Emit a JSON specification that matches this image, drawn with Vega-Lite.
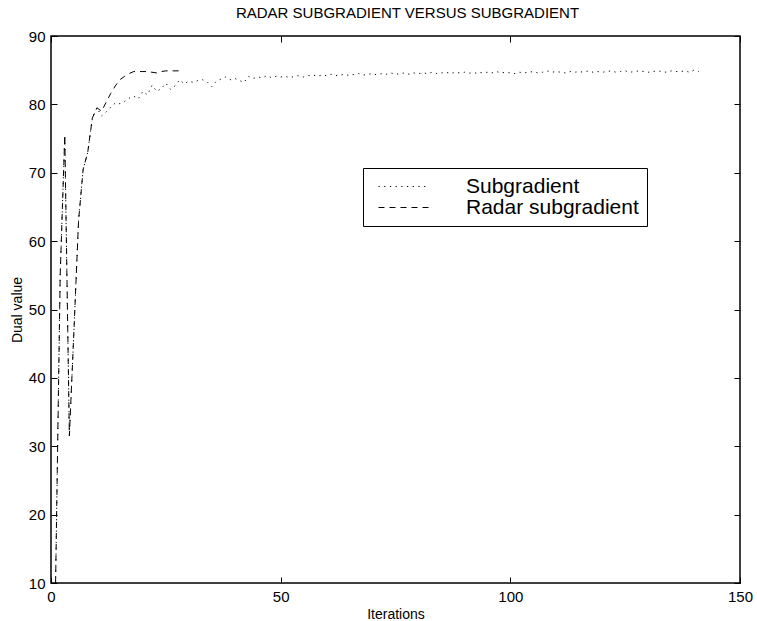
{
  "$schema": "https://vega.github.io/schema/vega-lite/v6.json",
  "width": 689,
  "height": 547,
  "autosize": {"type": "none"},
  "padding": {"left": 51, "top": 36, "right": 17, "bottom": 38},
  "background": "white",
  "title": {
    "text": "RADAR SUBGRADIENT VERSUS SUBGRADIENT",
    "fontSize": 15,
    "fontWeight": "normal",
    "font": "Liberation Sans",
    "color": "black",
    "offset": 8,
    "dx": 12
  },
  "config": {
    "font": "Liberation Sans",
    "view": {"stroke": "black", "strokeWidth": 1.5},
    "axis": {
      "domain": false,
      "grid": false,
      "tickColor": "black",
      "tickSize": -6,
      "tickWidth": 1,
      "labelFlush": false,
      "labelColor": "black",
      "labelFont": "Liberation Sans",
      "labelFontSize": 15,
      "titleFont": "Liberation Sans",
      "titleFontSize": 14,
      "titleFontWeight": "normal",
      "titleColor": "black"
    }
  },
  "data": {
    "values": [
      {"iteration": 1, "value": 10, "method": "Subgradient"},
      {"iteration": 2, "value": 55, "method": "Subgradient"},
      {"iteration": 3, "value": 75.5, "method": "Subgradient"},
      {"iteration": 4, "value": 31.5, "method": "Subgradient"},
      {"iteration": 5, "value": 47, "method": "Subgradient"},
      {"iteration": 6, "value": 63, "method": "Subgradient"},
      {"iteration": 7, "value": 70.5, "method": "Subgradient"},
      {"iteration": 8, "value": 73, "method": "Subgradient"},
      {"iteration": 9, "value": 78, "method": "Subgradient"},
      {"iteration": 10, "value": 79.5, "method": "Subgradient"},
      {"iteration": 11, "value": 78.3, "method": "Subgradient"},
      {"iteration": 12, "value": 78.9, "method": "Subgradient"},
      {"iteration": 13, "value": 79.6, "method": "Subgradient"},
      {"iteration": 14, "value": 80.2, "method": "Subgradient"},
      {"iteration": 15, "value": 80.1, "method": "Subgradient"},
      {"iteration": 16, "value": 80.4, "method": "Subgradient"},
      {"iteration": 17, "value": 80.9, "method": "Subgradient"},
      {"iteration": 18, "value": 81.2, "method": "Subgradient"},
      {"iteration": 19, "value": 80.8, "method": "Subgradient"},
      {"iteration": 20, "value": 81.9, "method": "Subgradient"},
      {"iteration": 21, "value": 81.4, "method": "Subgradient"},
      {"iteration": 22, "value": 82.8, "method": "Subgradient"},
      {"iteration": 23, "value": 81.9, "method": "Subgradient"},
      {"iteration": 24, "value": 82.3, "method": "Subgradient"},
      {"iteration": 25, "value": 83.1, "method": "Subgradient"},
      {"iteration": 26, "value": 82.2, "method": "Subgradient"},
      {"iteration": 27, "value": 82.7, "method": "Subgradient"},
      {"iteration": 28, "value": 83.6, "method": "Subgradient"},
      {"iteration": 29, "value": 83.0, "method": "Subgradient"},
      {"iteration": 30, "value": 83.4, "method": "Subgradient"},
      {"iteration": 31, "value": 83.2, "method": "Subgradient"},
      {"iteration": 32, "value": 83.5, "method": "Subgradient"},
      {"iteration": 33, "value": 83.6, "method": "Subgradient"},
      {"iteration": 34, "value": 83.3, "method": "Subgradient"},
      {"iteration": 35, "value": 82.6, "method": "Subgradient"},
      {"iteration": 36, "value": 83.4, "method": "Subgradient"},
      {"iteration": 37, "value": 83.7, "method": "Subgradient"},
      {"iteration": 38, "value": 84.0, "method": "Subgradient"},
      {"iteration": 39, "value": 83.6, "method": "Subgradient"},
      {"iteration": 40, "value": 83.8, "method": "Subgradient"},
      {"iteration": 41, "value": 83.5, "method": "Subgradient"},
      {"iteration": 42, "value": 83.2, "method": "Subgradient"},
      {"iteration": 43, "value": 84.1, "method": "Subgradient"},
      {"iteration": 44, "value": 83.8, "method": "Subgradient"},
      {"iteration": 45, "value": 84.0, "method": "Subgradient"},
      {"iteration": 46, "value": 83.9, "method": "Subgradient"},
      {"iteration": 47, "value": 84.2, "method": "Subgradient"},
      {"iteration": 48, "value": 83.9, "method": "Subgradient"},
      {"iteration": 49, "value": 84.1, "method": "Subgradient"},
      {"iteration": 50, "value": 84.0, "method": "Subgradient"},
      {"iteration": 51, "value": 84.1, "method": "Subgradient"},
      {"iteration": 52, "value": 83.9, "method": "Subgradient"},
      {"iteration": 53, "value": 84.1, "method": "Subgradient"},
      {"iteration": 54, "value": 84.2, "method": "Subgradient"},
      {"iteration": 55, "value": 84.0, "method": "Subgradient"},
      {"iteration": 56, "value": 84.2, "method": "Subgradient"},
      {"iteration": 57, "value": 84.3, "method": "Subgradient"},
      {"iteration": 58, "value": 84.1, "method": "Subgradient"},
      {"iteration": 59, "value": 84.3, "method": "Subgradient"},
      {"iteration": 60, "value": 84.2, "method": "Subgradient"},
      {"iteration": 61, "value": 84.4, "method": "Subgradient"},
      {"iteration": 62, "value": 84.2, "method": "Subgradient"},
      {"iteration": 63, "value": 84.3, "method": "Subgradient"},
      {"iteration": 64, "value": 84.4, "method": "Subgradient"},
      {"iteration": 65, "value": 84.2, "method": "Subgradient"},
      {"iteration": 66, "value": 84.4, "method": "Subgradient"},
      {"iteration": 67, "value": 84.5, "method": "Subgradient"},
      {"iteration": 68, "value": 84.3, "method": "Subgradient"},
      {"iteration": 69, "value": 84.4, "method": "Subgradient"},
      {"iteration": 70, "value": 84.5, "method": "Subgradient"},
      {"iteration": 71, "value": 84.3, "method": "Subgradient"},
      {"iteration": 72, "value": 84.5, "method": "Subgradient"},
      {"iteration": 73, "value": 84.4, "method": "Subgradient"},
      {"iteration": 74, "value": 84.6, "method": "Subgradient"},
      {"iteration": 75, "value": 84.4, "method": "Subgradient"},
      {"iteration": 76, "value": 84.5, "method": "Subgradient"},
      {"iteration": 77, "value": 84.6, "method": "Subgradient"},
      {"iteration": 78, "value": 84.4, "method": "Subgradient"},
      {"iteration": 79, "value": 84.6, "method": "Subgradient"},
      {"iteration": 80, "value": 84.5, "method": "Subgradient"},
      {"iteration": 81, "value": 84.6, "method": "Subgradient"},
      {"iteration": 82, "value": 84.5, "method": "Subgradient"},
      {"iteration": 83, "value": 84.7, "method": "Subgradient"},
      {"iteration": 84, "value": 84.5, "method": "Subgradient"},
      {"iteration": 85, "value": 84.6, "method": "Subgradient"},
      {"iteration": 86, "value": 84.7, "method": "Subgradient"},
      {"iteration": 87, "value": 84.5, "method": "Subgradient"},
      {"iteration": 88, "value": 84.7, "method": "Subgradient"},
      {"iteration": 89, "value": 84.6, "method": "Subgradient"},
      {"iteration": 90, "value": 84.7, "method": "Subgradient"},
      {"iteration": 91, "value": 84.6, "method": "Subgradient"},
      {"iteration": 92, "value": 84.5, "method": "Subgradient"},
      {"iteration": 93, "value": 84.7, "method": "Subgradient"},
      {"iteration": 94, "value": 84.6, "method": "Subgradient"},
      {"iteration": 95, "value": 84.7, "method": "Subgradient"},
      {"iteration": 96, "value": 84.6, "method": "Subgradient"},
      {"iteration": 97, "value": 84.8, "method": "Subgradient"},
      {"iteration": 98, "value": 84.6, "method": "Subgradient"},
      {"iteration": 99, "value": 84.7, "method": "Subgradient"},
      {"iteration": 100, "value": 84.6, "method": "Subgradient"},
      {"iteration": 101, "value": 84.5, "method": "Subgradient"},
      {"iteration": 102, "value": 84.7, "method": "Subgradient"},
      {"iteration": 103, "value": 84.6, "method": "Subgradient"},
      {"iteration": 104, "value": 84.7, "method": "Subgradient"},
      {"iteration": 105, "value": 84.8, "method": "Subgradient"},
      {"iteration": 106, "value": 84.6, "method": "Subgradient"},
      {"iteration": 107, "value": 84.7, "method": "Subgradient"},
      {"iteration": 108, "value": 84.9, "method": "Subgradient"},
      {"iteration": 109, "value": 84.7, "method": "Subgradient"},
      {"iteration": 110, "value": 84.8, "method": "Subgradient"},
      {"iteration": 111, "value": 84.7, "method": "Subgradient"},
      {"iteration": 112, "value": 84.6, "method": "Subgradient"},
      {"iteration": 113, "value": 84.8, "method": "Subgradient"},
      {"iteration": 114, "value": 84.7, "method": "Subgradient"},
      {"iteration": 115, "value": 84.8, "method": "Subgradient"},
      {"iteration": 116, "value": 84.7, "method": "Subgradient"},
      {"iteration": 117, "value": 84.9, "method": "Subgradient"},
      {"iteration": 118, "value": 84.7, "method": "Subgradient"},
      {"iteration": 119, "value": 84.8, "method": "Subgradient"},
      {"iteration": 120, "value": 84.7, "method": "Subgradient"},
      {"iteration": 121, "value": 84.8, "method": "Subgradient"},
      {"iteration": 122, "value": 84.9, "method": "Subgradient"},
      {"iteration": 123, "value": 84.7, "method": "Subgradient"},
      {"iteration": 124, "value": 84.8, "method": "Subgradient"},
      {"iteration": 125, "value": 84.9, "method": "Subgradient"},
      {"iteration": 126, "value": 84.7, "method": "Subgradient"},
      {"iteration": 127, "value": 84.8, "method": "Subgradient"},
      {"iteration": 128, "value": 84.9, "method": "Subgradient"},
      {"iteration": 129, "value": 84.8, "method": "Subgradient"},
      {"iteration": 130, "value": 84.7, "method": "Subgradient"},
      {"iteration": 131, "value": 84.8, "method": "Subgradient"},
      {"iteration": 132, "value": 84.9, "method": "Subgradient"},
      {"iteration": 133, "value": 84.8, "method": "Subgradient"},
      {"iteration": 134, "value": 84.7, "method": "Subgradient"},
      {"iteration": 135, "value": 84.9, "method": "Subgradient"},
      {"iteration": 136, "value": 84.8, "method": "Subgradient"},
      {"iteration": 137, "value": 84.8, "method": "Subgradient"},
      {"iteration": 138, "value": 84.9, "method": "Subgradient"},
      {"iteration": 139, "value": 84.7, "method": "Subgradient"},
      {"iteration": 140, "value": 85.0, "method": "Subgradient"},
      {"iteration": 141, "value": 84.8, "method": "Subgradient"},
      {"iteration": 1, "value": 10, "method": "Radar subgradient"},
      {"iteration": 2, "value": 55, "method": "Radar subgradient"},
      {"iteration": 3, "value": 75.5, "method": "Radar subgradient"},
      {"iteration": 4, "value": 31.5, "method": "Radar subgradient"},
      {"iteration": 5, "value": 47, "method": "Radar subgradient"},
      {"iteration": 6, "value": 63, "method": "Radar subgradient"},
      {"iteration": 7, "value": 70.5, "method": "Radar subgradient"},
      {"iteration": 8, "value": 73, "method": "Radar subgradient"},
      {"iteration": 9, "value": 78, "method": "Radar subgradient"},
      {"iteration": 10, "value": 79.5, "method": "Radar subgradient"},
      {"iteration": 11, "value": 79.0, "method": "Radar subgradient"},
      {"iteration": 12, "value": 80.3, "method": "Radar subgradient"},
      {"iteration": 13, "value": 81.6, "method": "Radar subgradient"},
      {"iteration": 14, "value": 82.7, "method": "Radar subgradient"},
      {"iteration": 15, "value": 83.6, "method": "Radar subgradient"},
      {"iteration": 16, "value": 84.1, "method": "Radar subgradient"},
      {"iteration": 17, "value": 84.5, "method": "Radar subgradient"},
      {"iteration": 18, "value": 84.8, "method": "Radar subgradient"},
      {"iteration": 19, "value": 84.8, "method": "Radar subgradient"},
      {"iteration": 20, "value": 84.8, "method": "Radar subgradient"},
      {"iteration": 21, "value": 84.8, "method": "Radar subgradient"},
      {"iteration": 22, "value": 84.7, "method": "Radar subgradient"},
      {"iteration": 23, "value": 84.6, "method": "Radar subgradient"},
      {"iteration": 24, "value": 84.8, "method": "Radar subgradient"},
      {"iteration": 25, "value": 84.9, "method": "Radar subgradient"},
      {"iteration": 26, "value": 84.9, "method": "Radar subgradient"},
      {"iteration": 27, "value": 84.9, "method": "Radar subgradient"},
      {"iteration": 28, "value": 84.9, "method": "Radar subgradient"}
    ]
  },
  "resolve": {"axis": {"x": "independent", "y": "independent"}},
  "layer": [
    {
      "mark": {"type": "line", "color": "black", "strokeWidth": 1, "clip": true},
      "encoding": {
        "x": {
          "field": "iteration",
          "type": "quantitative",
          "scale": {"domain": [0, 150], "nice": false, "zero": false},
          "axis": {"values": [0, 50, 100, 150], "title": "Iterations", "labelPadding": 12, "titlePadding": 3}
        },
        "y": {
          "field": "value",
          "type": "quantitative",
          "scale": {"domain": [10, 90], "nice": false, "zero": false},
          "axis": {"values": [10, 20, 30, 40, 50, 60, 70, 80, 90], "title": "Dual value", "labelPadding": 12, "titlePadding": 4}
        },
        "strokeDash": {
          "field": "method",
          "type": "nominal",
          "scale": {"domain": ["Subgradient", "Radar subgradient"], "range": [[1.2, 4.5], [6, 5]]},
          "legend": {
            "title": null,
            "orient": "none",
            "legendX": 312,
            "legendY": 132,
            "strokeColor": "black",
            "fillColor": "white",
            "padding": 8,
            "symbolType": "M-6.25,0H6.25",
            "symbolSize": 64,
            "symbolStrokeColor": "black",
            "symbolStrokeWidth": 1,
            "symbolOffset": 22,
            "labelOffset": 52,
            "labelLimit": 0,
            "labelFont": "Liberation Sans",
            "labelFontSize": 21,
            "labelColor": "black",
            "rowPadding": -3
          }
        },
        "order": {"field": "iteration", "type": "quantitative"}
      }
    },
    {
      "mark": {"type": "line", "strokeOpacity": 0},
      "encoding": {
        "x": {
          "field": "iteration",
          "type": "quantitative",
          "axis": {"orient": "top", "values": [0, 50, 100, 150], "labels": false, "title": null}
        },
        "y": {
          "field": "value",
          "type": "quantitative",
          "axis": {"orient": "right", "values": [10, 20, 30, 40, 50, 60, 70, 80, 90], "labels": false, "title": null}
        },
        "detail": {"field": "method", "type": "nominal"}
      }
    }
  ]
}
